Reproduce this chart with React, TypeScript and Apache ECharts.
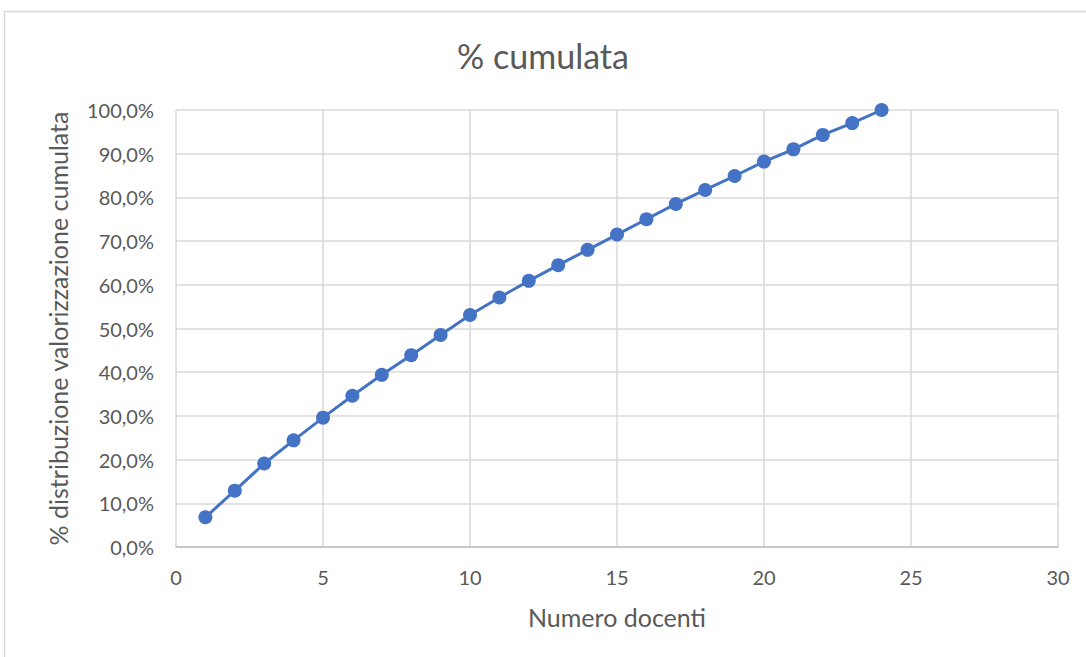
import React, { useEffect, useRef } from "react";
import * as echarts from "echarts";

const titleText = "% cumulata";
const xAxisName = "Numero docenti";
const yAxisName = "% distribuzione valorizzazione cumulata";
const docenti = [1, 2, 3, 4, 5, 6, 7, 8, 9, 10, 11, 12, 13, 14, 15, 16, 17, 18, 19, 20, 21, 22, 23, 24];
const cumulata = [0.068, 0.129, 0.191, 0.244, 0.296, 0.346, 0.394, 0.439, 0.485, 0.531, 0.571, 0.609, 0.645, 0.68, 0.715, 0.75, 0.785, 0.817, 0.849, 0.882, 0.91, 0.943, 0.97, 1.0];

const FONT = "Lato, 'Open Sans', sans-serif";
const TXT = "#595959";

export default function App() {
  const ref = useRef<HTMLDivElement>(null);
  useEffect(() => {
    if (!ref.current) return;
    const chart = echarts.init(ref.current, null, { renderer: "svg" });
    chart.setOption({
      animation: false,
      backgroundColor: "#ffffff",
      textStyle: { fontFamily: FONT },
      title: {
        text: titleText,
        left: "center",
        top: 33,
        textStyle: { fontFamily: FONT, fontSize: 34, fontWeight: "normal", color: TXT },
      },
      graphic: [
        {
          type: "rect",
          shape: { x: 4.5, y: 11.5, width: 1200, height: 800 },
          style: { fill: "none", stroke: "#d9d9d9", lineWidth: 1.5 },
          silent: true,
        },
      ],
      grid: { left: 176, right: 28, top: 110, bottom: 110, containLabel: false },
      xAxis: {
        type: "value",
        min: 0,
        max: 30,
        interval: 5,
        name: xAxisName,
        nameLocation: "middle",
        nameGap: 57,
        nameTextStyle: { fontFamily: FONT, fontSize: 25, color: TXT },
        axisLine: { show: true, lineStyle: { color: "#bfbfbf", width: 1.5 } },
        axisTick: { show: false },
        axisLabel: { fontFamily: FONT, fontSize: 20, color: TXT, margin: 20 },
        splitLine: { show: true, lineStyle: { color: "#d9d9d9", width: 1.5 } },
      },
      yAxis: {
        type: "value",
        min: 0,
        max: 1,
        interval: 0.1,
        name: yAxisName,
        nameLocation: "middle",
        nameGap: 106,
        nameTextStyle: { fontFamily: FONT, fontSize: 25, color: TXT },
        axisLine: { show: false },
        axisTick: { show: false },
        axisLabel: {
          fontFamily: FONT,
          fontSize: 20,
          color: TXT,
          margin: 22,
          formatter: (v: number) => (v * 100).toFixed(1).replace(".", ",") + "%",
        },
        splitLine: { show: true, lineStyle: { color: "#d9d9d9", width: 1.5 } },
      },
      series: [
        {
          type: "line",
          data: docenti.map((d, i) => [d, cumulata[i]]),
          symbol: "circle",
          symbolSize: 14,
          lineStyle: { color: "#4472C4", width: 3 },
          itemStyle: { color: "#4472C4" },
        },
      ],
    });
    return () => chart.dispose();
  }, []);
  return <div ref={ref} style={{ width: 1086, height: 657, position: "absolute", left: 0, top: 0 }} />;
}
